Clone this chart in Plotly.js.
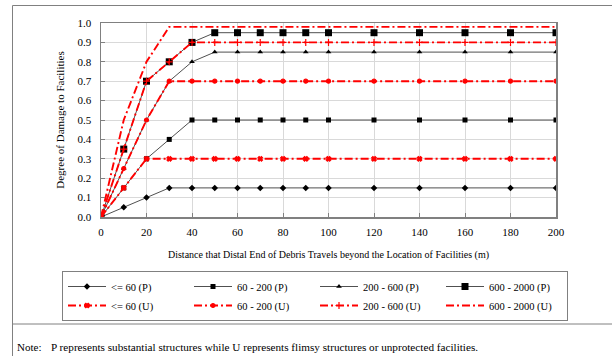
<!DOCTYPE html>
<html><head><meta charset="utf-8">
<script src="https://cdn.plot.ly/plotly-3.0.1.min.js"></script>
<style>html,body{margin:0;padding:0;background:#fff}#chart{width:612px;height:356px}</style>
</head><body><div id="chart"></div>
<script>
// Distance that distal end of debris travels beyond facilities (m)
const distance = [0, 10, 20, 30, 40, 50, 60, 70, 80, 90, 100, 120, 140, 160, 180, 200];
// Degree of damage, substantial structures (P)
const p60   = [0, 0.05, 0.10, 0.15, 0.15, 0.15, 0.15, 0.15, 0.15, 0.15, 0.15, 0.15, 0.15, 0.15, 0.15, 0.15];
const p200  = [0, 0.15, 0.30, 0.40, 0.50, 0.50, 0.50, 0.50, 0.50, 0.50, 0.50, 0.50, 0.50, 0.50, 0.50, 0.50];
const p600  = [0, 0.25, 0.50, 0.70, 0.80, 0.85, 0.85, 0.85, 0.85, 0.85, 0.85, 0.85, 0.85, 0.85, 0.85, 0.85];
const p2000 = [0, 0.35, 0.70, 0.80, 0.90, 0.95, 0.95, 0.95, 0.95, 0.95, 0.95, 0.95, 0.95, 0.95, 0.95, 0.95];
// Degree of damage, flimsy / unprotected (U)
const u60   = [0, 0.15, 0.30, 0.30, 0.30, 0.30, 0.30, 0.30, 0.30, 0.30, 0.30, 0.30, 0.30, 0.30, 0.30, 0.30];
const u200  = [0, 0.25, 0.50, 0.70, 0.70, 0.70, 0.70, 0.70, 0.70, 0.70, 0.70, 0.70, 0.70, 0.70, 0.70, 0.70];
const u600  = [0, 0.35, 0.70, 0.80, 0.90, 0.90, 0.90, 0.90, 0.90, 0.90, 0.90, 0.90, 0.90, 0.90, 0.90, 0.90];
const u2000 = [0, 0.50, 0.80, 0.98, 0.98, 0.98, 0.98, 0.98, 0.98, 0.98, 0.98, 0.98, 0.98, 0.98, 0.98, 0.98];

const namesP = ['&lt;= 60 (P)', '60 - 200 (P)', '200 - 600 (P)', '600 - 2000 (P)'];
const namesU = ['&lt;= 60 (U)', '60 - 200 (U)', '200 - 600 (U)', '600 - 2000 (U)'];
const xTitle = 'Distance that Distal End of Debris Travels beyond the Location of Facilities (m)';
const yTitle = 'Degree of Damage to Facilities';
const noteLabel = 'Note:';
const noteText = 'P represents substantial structures while U represents flimsy structures or unprotected facilities.';

const FONT = 'Liberation Serif, Times New Roman, serif';
const RED = '#ff0000';
const DASH = '8px,3px,2px,3px';

function pTrace(y, name, symbol, size) {
  return {x: distance, y: y, name: name, type: 'scatter', mode: 'lines+markers',
    line: {color: '#505050', width: 1},
    marker: {symbol: symbol, size: size, color: '#000'}};
}
function uTrace(y, name, symbol, size, mode) {
  return {x: distance, y: y, name: name, type: 'scatter', mode: mode,
    line: {color: RED, width: 1.9, dash: DASH},
    marker: {symbol: symbol, size: size, color: RED, line: {color: RED, width: 1.2}}};
}

const data = [
  pTrace(p60, namesP[0], 'diamond', 5),
  pTrace(p200, namesP[1], 'square', 5),
  pTrace(p600, namesP[2], 'triangle-up', 5),
  pTrace(p2000, namesP[3], 'square', 7),
  uTrace(u60, namesU[0], 'x', 4, 'lines+markers'),
  uTrace(u200, namesU[1], 'circle', 4, 'lines+markers'),
  uTrace(u600, namesU[2], 'cross-thin-open', 5, 'lines+markers'),
  uTrace(u2000, namesU[3], 'circle', 2, 'lines')
];

const L = 101, W = 455, T = 23, H = 194;
const px = v => (v - L) / W;
const py = v => 1 - (v - T) / H;
const frame = '#808080';

const layout = {
  width: 612, height: 356,
  margin: {l: L, r: 612 - L - W, t: T, b: 356 - T - H},
  paper_bgcolor: '#fff', plot_bgcolor: '#fff',
  font: {family: FONT, size: 11, color: '#000'},
  showlegend: true,
  xaxis: {
    range: [0, 200], dtick: 20, tick0: 0,
    showgrid: true, gridcolor: '#d9d9d9', gridwidth: 1,
    zeroline: false, showline: true, linecolor: frame, linewidth: 1.5, mirror: true,
    ticks: 'inside', ticklen: 4, tickcolor: frame, ticklabelstandoff: 4,
    tickfont: {family: FONT, size: 11, color: '#000'},
    title: {text: xTitle, font: {family: FONT, size: 10, color: '#000'}, standoff: 14}
  },
  yaxis: {
    range: [0, 1], dtick: 0.1, tick0: 0, tickformat: '.1f',
    showgrid: true, gridcolor: '#d9d9d9', gridwidth: 1,
    zeroline: false, showline: true, linecolor: frame, linewidth: 1.5, mirror: true,
    ticks: 'inside', ticklen: 4, tickcolor: frame, ticklabelstandoff: 6,
    tickfont: {family: FONT, size: 11, color: '#000'},
    title: {text: yTitle, font: {family: FONT, size: 11, color: '#000'}, standoff: 10}
  },
  legend: {
    orientation: 'h', x: px(62), xanchor: 'left', y: py(271), yanchor: 'top',
    itemwidth: 38, entrywidth: 73, bordercolor: frame, borderwidth: 1, bgcolor: '#fff',
    font: {family: FONT, size: 10.5, color: '#000'}, traceorder: 'normal'
  },
  shapes: [
    {type: 'line', xref: 'paper', yref: 'paper', x0: px(12.5), x1: 1.3, y0: py(5.5), y1: py(5.5), line: {color: frame, width: 1}},
    {type: 'line', xref: 'paper', yref: 'paper', x0: px(12.5), x1: px(12.5), y0: py(5.5), y1: py(400), line: {color: frame, width: 1}},
    {type: 'line', xref: 'paper', yref: 'paper', x0: px(12.5), x1: 1.3, y0: py(324), y1: py(324), line: {color: frame, width: 1}}
  ],
  annotations: [
    {xref: 'paper', yref: 'paper', x: px(15), y: py(347), xanchor: 'left', yanchor: 'middle', showarrow: false,
     text: noteLabel, font: {family: FONT, size: 11, color: '#000'}},
    {xref: 'paper', yref: 'paper', x: px(49), y: py(347), xanchor: 'left', yanchor: 'middle', showarrow: false,
     text: noteText, font: {family: FONT, size: 11.2, color: '#000'}}
  ]
};

Plotly.newPlot('chart', data, layout, {displayModeBar: false, staticPlot: true});
</script>
</body></html>
